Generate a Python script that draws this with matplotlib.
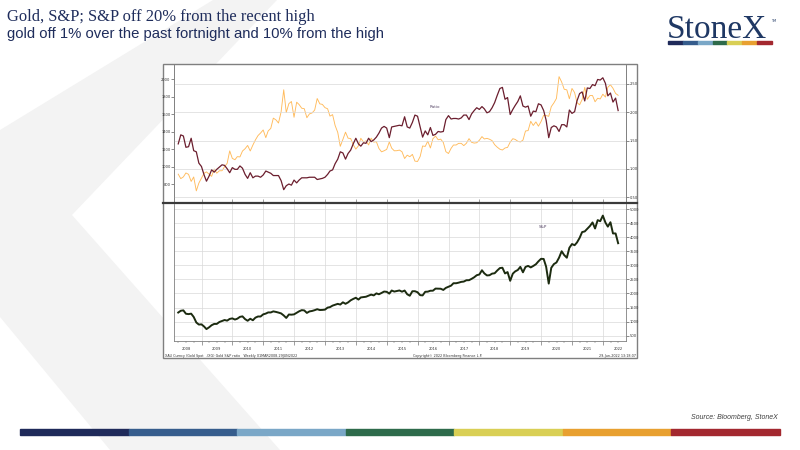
import datetime as dt
import numpy as np
import pandas as pd
import matplotlib
matplotlib.use("Agg")
import matplotlib.pyplot as plt
from matplotlib.patches import Rectangle, Polygon
from matplotlib.lines import Line2D

# month-end closes, Mar 2008 .. Jun 2022
months = pd.date_range("2008-03-31", "2022-06-30", freq="ME")

gold = [
    916, 865, 885, 930, 914, 833, 884, 725, 814, 870,
    927, 942, 916, 891, 975, 927, 955, 955, 1001, 1040, 1182, 1096,
    1081, 1116, 1113, 1180, 1207, 1244, 1181, 1248, 1307, 1357, 1386, 1421,
    1333, 1410, 1439, 1556, 1536, 1500, 1628, 1880, 1620, 1722, 1746, 1566,
    1738, 1711, 1669, 1664, 1561, 1604, 1615, 1648, 1780, 1719, 1713, 1676,
    1663, 1579, 1596, 1472, 1393, 1234, 1313, 1396, 1327, 1323, 1253, 1202,
    1240, 1326, 1284, 1296, 1250, 1327, 1282, 1287, 1210, 1171, 1183, 1199,
    1284, 1213, 1183, 1184, 1191, 1172, 1095, 1133, 1115, 1142, 1065, 1061,
    1118, 1238, 1233, 1293, 1215, 1321, 1351, 1309, 1316, 1278, 1173, 1152,
    1211, 1249, 1249, 1268, 1268, 1242, 1269, 1322, 1280, 1271, 1275, 1303,
    1345, 1318, 1325, 1315, 1299, 1253, 1224, 1201, 1192, 1215, 1222, 1282,
    1321, 1313, 1292, 1284, 1305, 1409, 1414, 1520, 1472, 1513, 1464, 1517,
    1589, 1585, 1577, 1687, 1730, 1781, 2030, 1968, 1886, 1879, 1777, 1895,
    1848, 1734, 1708, 1769, 1907, 1771, 1814, 1814, 1743, 1783, 1775, 1829,
    1797, 1909, 1937, 1897, 1838, 1817,
]

ratio = [
    1.44, 1.60, 1.58, 1.38, 1.39, 1.54, 1.32, 1.30, 1.10, 1.04,
    0.89, 0.78, 0.87, 0.98, 0.94, 0.99, 1.03, 1.07, 1.06, 1.00, 0.93, 1.02,
    0.99, 0.99, 1.05, 1.01, 0.90, 0.83, 0.93, 0.84, 0.87, 0.87, 0.85, 0.89,
    0.96, 0.94, 0.92, 0.88, 0.88, 0.88, 0.79, 0.63, 0.70, 0.73, 0.71, 0.80,
    0.75, 0.80, 0.84, 0.84, 0.84, 0.85, 0.85, 0.85, 0.81, 0.82, 0.83, 0.85,
    0.90, 0.96, 0.98, 1.09, 1.17, 1.30, 1.28, 1.17, 1.27, 1.33, 1.44, 1.54,
    1.44, 1.40, 1.46, 1.45, 1.54, 1.48, 1.51, 1.56, 1.63, 1.72, 1.75, 1.72,
    1.55, 1.74, 1.75, 1.76, 1.77, 1.76, 1.92, 1.74, 1.72, 1.82, 1.95, 1.93,
    1.74, 1.56, 1.67, 1.60, 1.73, 1.59, 1.61, 1.66, 1.65, 1.66, 1.87, 1.94,
    1.88, 1.89, 1.89, 1.88, 1.90, 1.95, 1.95, 1.87, 1.97, 2.03, 2.08, 2.05,
    2.10, 2.06, 1.99, 2.01, 2.08, 2.17, 2.30, 2.42, 2.44, 2.23, 2.26, 1.96,
    2.05, 2.12, 2.19, 2.29, 2.11, 2.09, 2.11, 1.93, 2.02, 2.01, 2.15, 2.13,
    2.03, 1.86, 1.55, 1.73, 1.76, 1.74, 1.66, 1.78, 1.78, 1.74, 2.04, 1.98,
    2.01, 2.20, 2.33, 2.36, 2.20, 2.43, 2.42, 2.49, 2.47, 2.58, 2.57, 2.61,
    2.51, 2.29, 2.34, 2.18, 2.25, 2.03,
]

spx = [
    1323, 1386, 1400, 1280, 1267, 1283, 1166, 969, 896, 903,
    826, 735, 798, 873, 919, 919, 987, 1021, 1057, 1036, 1096, 1115,
    1074, 1104, 1169, 1187, 1089, 1031, 1102, 1049, 1141, 1183, 1181, 1258,
    1286, 1327, 1326, 1364, 1345, 1321, 1292, 1219, 1131, 1253, 1247, 1258,
    1312, 1366, 1408, 1398, 1310, 1362, 1379, 1407, 1441, 1412, 1416, 1426,
    1498, 1515, 1569, 1598, 1631, 1606, 1686, 1633, 1682, 1757, 1806, 1848,
    1783, 1859, 1872, 1884, 1924, 1960, 1931, 2003, 1972, 2018, 2068, 2059,
    1995, 2105, 2068, 2086, 2107, 2063, 2104, 1972, 1920, 2079, 2080, 2044,
    1940, 1932, 2060, 2065, 2097, 2099, 2174, 2171, 2168, 2126, 2199, 2239,
    2279, 2364, 2363, 2384, 2412, 2423, 2470, 2472, 2519, 2575, 2648, 2674,
    2824, 2714, 2641, 2648, 2705, 2718, 2816, 2902, 2914, 2712, 2760, 2450,
    2704, 2784, 2834, 2946, 2752, 2942, 2980, 2926, 2977, 3038, 3141, 3231,
    3226, 2954, 2350, 2912, 3044, 3100, 3271, 3500, 3363, 3270, 3622, 3756,
    3714, 3811, 3973, 4181, 4204, 4298, 4395, 4523, 4308, 4605, 4567, 4766,
    4516, 4374, 4530, 4132, 4132, 3785,
]

years = list(range(2008, 2023))
gold_ticks = [800, 1000, 1200, 1400, 1600, 1800, 2000]
ratio_ticks = [0.5, 1.0, 1.5, 2.0, 2.5]
spx_ticks = [500, 1000, 1500, 2000, 2500, 3000, 3500, 4000, 4500, 5000]

W, H = 800, 450
fig = plt.figure(figsize=(8, 4.5), dpi=100)
fig.patch.set_facecolor("white")


def fx(x):
    return x / W


def fy(y):
    return 1 - y / H


# background chevron watermark
chev = Polygon([(fx(213), fy(0)), (fx(277), fy(0)), (fx(72), fy(215)),
                (fx(280), fy(450)), (fx(110), fy(450)), (fx(0), fy(317)),
                (fx(0), fy(130))], closed=True, transform=fig.transFigure,
               facecolor="#F3F3F3", edgecolor="none", zorder=0)
fig.patches.append(chev)

navy = "#1F2D5C"
fig.text(fx(7), fy(21), "Gold, S&P; S&P off 20% from the recent high",
         family="Liberation Serif", fontsize=11.9, color=navy)
fig.text(fx(7), fy(38), "gold off 1% over the past fortnight and 10% from the high",
         family="Liberation Sans", fontsize=10.7, color=navy)

# logo
fig.text(fx(667), fy(38), "StoneX", family="Liberation Serif", fontsize=24,
         color="#1F3864")
fig.text(fx(771), fy(22), "TM", fontsize=2.5, color="#1F3864")
bar_cols = ["#1F2A5A", "#355C8C", "#7AA7C7", "#2E6B4B", "#D9CF55", "#E8A030", "#A3282F"]
lw_seg = (772 - 668) / 7
for i, c in enumerate(bar_cols):
    fig.patches.append(Rectangle((fx(668 + i * lw_seg), fy(44)), lw_seg / W, 3 / H,
                                 transform=fig.transFigure, color=c, zorder=2))

# bottom colour stripe
seg = (780 - 20) / 7
for i, c in enumerate(bar_cols):
    fig.patches.append(Rectangle((fx(20 + i * seg), fy(435)), seg / W, 6 / H,
                                 transform=fig.transFigure, color=c, zorder=2))
fig.text(fx(778), fy(419), "Source: Bloomberg, StoneX", ha="right", fontsize=5,
         style="italic", color="#404040", family="Liberation Sans")

# bloomberg chart frame
fig.patches.append(Rectangle((fx(163), fy(358)), 474 / W, 294 / H,
                             transform=fig.transFigure, facecolor="white",
                             edgecolor="#7F7F7F", lw=1.0, zorder=1))

xmin = dt.datetime(2008, 2, 10)
xmax = dt.datetime(2022, 10, 1)
jan1 = [dt.datetime(y, 1, 1) for y in range(2009, 2023)]
quarters = [dt.datetime(y, m, 1) for y in range(2008, 2023) for m in (4, 7, 10)]
quarters = [q for q in quarters if xmin < q < xmax]

tick_fs = 2.6
grid_c = "#D9D9D9"

ax1 = fig.add_axes([fx(174), fy(202), 452 / W, 137 / H])
ax1r = ax1.twinx()
ax2 = fig.add_axes([fx(174), fy(341), 452 / W, 137 / H])

for a in (ax1, ax1r, ax2):
    a.set_zorder(3)
    a.set_facecolor("none")
ax1r.set_zorder(4)

# top panel
ax1.plot(months, gold, color="#FFBB5C", lw=0.65)
ax1r.plot(months, ratio, color="#6B1E2E", lw=0.9)
ax1.set_xlim(xmin, xmax)
ax1.set_ylim(598, 2163)
ax1r.set_ylim(0.412, 2.836)
ax1.set_yticks(gold_ticks)
ax1.set_yticklabels([str(v) for v in gold_ticks])
ax1r.set_yticks(ratio_ticks)
ax1r.set_yticklabels(["%.2f" % v for v in ratio_ticks])
ax1r.grid(axis="y", color=grid_c, lw=0.5)
ax1.set_xticks(jan1)
ax1.set_xticklabels([])
ax1.tick_params(axis="x", direction="in", length=2, width=0.4, color="#555555")
ax1.tick_params(axis="y", labelsize=tick_fs, length=2, width=0.4, pad=0.5,
                colors="#333333")
ax1r.tick_params(axis="y", labelsize=tick_fs, length=2, width=0.4, pad=0.5,
                 colors="#333333")
ax1r.text(dt.datetime(2016, 7, 20), 2.07, "Ratio", fontsize=3, color="#5A4A6A",
          ha="center")

# bottom panel
ax2.plot(months, spx, color="#1C2B10", lw=1.4)
ax2.set_xlim(xmin, xmax)
ax2.set_ylim(312, 5178)
ax2.yaxis.tick_right()
ax2.set_yticks(spx_ticks)
ax2.set_yticklabels([str(v) for v in spx_ticks])
ax2.tick_params(axis="y", labelsize=tick_fs, length=2, width=0.4, pad=0.5,
                colors="#333333")
ax2.set_xticks(jan1)
ax2.set_xticklabels([])
ax2.set_xticks(quarters, minor=True)
ax2.tick_params(axis="x", which="major", length=3, width=0.4, color="#555555")
ax2.tick_params(axis="x", which="minor", length=1.5, width=0.3, color="#555555")
ax2.grid(axis="both", which="major", color=grid_c, lw=0.5)
ax2.text(dt.datetime(2020, 1, 20), 4330, "S&P", fontsize=3, color="#5A4A6A",
         ha="center")
for y in years:
    ax2.text(dt.datetime(y, 7, 1), -0.055, str(y), transform=ax2.get_xaxis_transform(),
             fontsize=tick_fs, ha="center", va="center", color="#333333")

for a in (ax1, ax1r, ax2):
    a.spines["top"].set_visible(False)
    a.spines["bottom"].set_visible(False)
    for s in ("left", "right"):
        a.spines[s].set_color("#808080")
        a.spines[s].set_linewidth(0.6)
ax2.spines["bottom"].set_visible(True)
ax2.spines["bottom"].set_color("#808080")
ax2.spines["bottom"].set_linewidth(0.6)

# divider between panels
fig.lines.append(Line2D([fx(163), fx(637)], [fy(203), fy(203)],
                        transform=fig.transFigure, color="#3A3A3A", lw=1.6,
                        zorder=5))

# chart footer
foot_fs = 2.4
fig.text(fx(165), fy(355.5),
         "XAU Curncy (Gold Spot  .(XG) Gold S&P ratio   Weekly 01MAR2008-29JUN2022",
         fontsize=foot_fs, color="#333333", va="center")
fig.text(fx(413), fy(355.5), "Copyright\u00a9 2022 Bloomberg Finance L.P.",
         fontsize=foot_fs, color="#333333", va="center")
fig.text(fx(636), fy(355.5), "29-Jun-2022 13:18:07", fontsize=foot_fs,
         color="#333333", va="center", ha="right")

fig.savefig("out.png", dpi=100)
